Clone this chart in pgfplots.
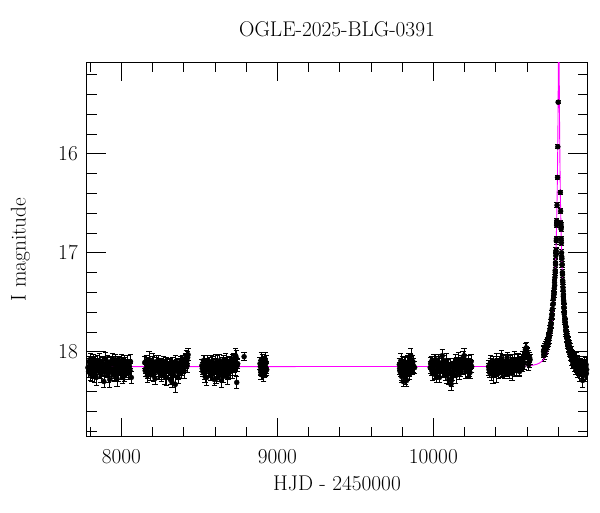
\documentclass[border=0pt]{standalone}
\usepackage{pgfplots}
\usepackage{pgfplotstable}
\pgfplotsset{compat=1.18}
\definecolor{modelmag}{RGB}{255,0,255}
\pgfplotstableread{
t m e
7786 18.16 0.06
7793 18.10 0.05
7800 18.22 0.07
7807 18.13 0.06
7814 18.19 0.08
7821 18.08 0.05
7828 18.25 0.06
7835 18.12 0.07
7842 18.17 0.06
7849 18.09 0.05
7856 18.20 0.07
7863 18.14 0.06
7870 18.23 0.08
7877 18.11 0.05
7884 18.15 0.06
7891 18.18 0.07
7898 18.07 0.06
7905 18.21 0.05
7912 18.13 0.07
7919 18.16 0.06
7926 18.28 0.08
7933 18.10 0.05
7940 18.19 0.06
7947 18.12 0.07
7954 18.24 0.06
7961 18.08 0.05
7968 18.17 0.07
7975 18.14 0.06
7982 18.22 0.08
7989 18.11 0.05
7996 18.18 0.06
8003 18.13 0.07
8010 18.26 0.06
8017 18.09 0.05
8024 18.16 0.07
8031 18.20 0.06
8038 18.12 0.08
8045 18.18 0.05
8052 18.15 0.06
8059 18.10 0.07
8064 18.26 0.06
7790 18.20 0.06
7797 18.14 0.07
7804 18.07 0.05
7811 18.24 0.06
7818 18.15 0.07
7825 18.11 0.06
7832 18.19 0.05
7839 18.26 0.08
7846 18.13 0.06
7853 18.16 0.05
7860 18.09 0.07
7867 18.21 0.06
7874 18.17 0.05
7881 18.12 0.07
7888 18.30 0.06
7895 18.14 0.05
7902 18.18 0.07
7909 18.10 0.06
7916 18.23 0.08
7923 18.15 0.05
7930 18.12 0.06
7937 18.20 0.07
7944 18.08 0.06
7951 18.17 0.05
7958 18.22 0.07
7965 18.13 0.06
7972 18.27 0.08
7979 18.10 0.05
7986 18.16 0.06
7993 18.21 0.07
8000 18.09 0.06
8007 18.18 0.05
8014 18.14 0.07
8021 18.24 0.06
8028 18.11 0.05
8035 18.15 0.07
8042 18.22 0.06
8049 18.13 0.05
8056 18.19 0.07
8150 18.11 0.06
8157 18.17 0.05
8164 18.13 0.07
8171 18.21 0.06
8178 18.08 0.08
8185 18.15 0.05
8192 18.19 0.06
8199 18.12 0.07
8206 18.24 0.06
8213 18.14 0.05
8220 18.18 0.07
8227 18.10 0.06
8234 18.20 0.08
8241 18.16 0.05
8248 18.13 0.06
8255 18.23 0.07
8262 18.17 0.06
8269 18.10 0.05
8276 18.21 0.07
8283 18.14 0.06
8290 18.26 0.08
8297 18.12 0.05
8304 18.18 0.06
8311 18.15 0.07
8318 18.22 0.06
8325 18.31 0.05
8332 18.16 0.07
8339 18.19 0.06
8346 18.33 0.08
8353 18.13 0.05
8360 18.18 0.06
8367 18.21 0.07
8374 18.14 0.06
8381 18.10 0.05
8388 18.17 0.07
8395 18.12 0.06
8402 18.19 0.08
8409 18.08 0.05
8416 18.05 0.06
8422 18.14 0.07
8428 18.03 0.06
8153 18.19 0.06
8160 18.09 0.05
8167 18.24 0.07
8174 18.15 0.06
8181 18.12 0.05
8188 18.22 0.07
8195 18.16 0.06
8202 18.10 0.08
8209 18.18 0.05
8216 18.27 0.06
8223 18.13 0.07
8230 18.15 0.06
8237 18.09 0.05
8244 18.21 0.07
8251 18.17 0.06
8258 18.12 0.05
8265 18.19 0.07
8272 18.14 0.06
8279 18.25 0.08
8286 18.11 0.05
8293 18.16 0.06
8300 18.20 0.07
8307 18.13 0.06
8314 18.28 0.05
8321 18.17 0.07
8328 18.12 0.06
8335 18.23 0.08
8342 18.15 0.05
8349 18.10 0.06
8356 18.19 0.07
8363 18.26 0.06
8370 18.12 0.05
8377 18.17 0.07
8384 18.21 0.06
8391 18.09 0.05
8398 18.15 0.07
8405 18.13 0.06
8412 18.07 0.05
8419 18.10 0.07
8425 18.06 0.06
8516 18.14 0.06
8523 18.20 0.05
8530 18.11 0.07
8537 18.25 0.06
8544 18.17 0.08
8551 18.09 0.05
8558 18.19 0.06
8565 18.13 0.07
8572 18.23 0.06
8579 18.16 0.05
8586 18.12 0.07
8593 18.21 0.06
8600 18.15 0.08
8607 18.27 0.05
8614 18.10 0.06
8621 18.18 0.07
8628 18.24 0.06
8635 18.14 0.05
8642 18.29 0.07
8649 18.16 0.06
8656 18.12 0.08
8663 18.20 0.05
8670 18.08 0.06
8677 18.15 0.07
8684 18.22 0.06
8691 18.11 0.05
8698 18.17 0.07
8705 18.13 0.06
8712 18.19 0.08
8719 18.07 0.05
8726 18.15 0.06
8733 18.04 0.07
8740 18.31 0.06
8746 18.12 0.05
8519 18.17 0.06
8526 18.09 0.05
8533 18.21 0.07
8540 18.14 0.06
8547 18.26 0.08
8554 18.12 0.05
8561 18.16 0.06
8568 18.19 0.07
8575 18.10 0.06
8582 18.23 0.05
8589 18.15 0.07
8596 18.28 0.06
8603 18.11 0.08
8610 18.18 0.05
8617 18.14 0.06
8624 18.21 0.07
8631 18.09 0.06
8638 18.17 0.05
8645 18.13 0.07
8652 18.25 0.06
8659 18.15 0.08
8666 18.19 0.05
8673 18.12 0.06
8680 18.26 0.07
8687 18.16 0.06
8694 18.10 0.05
8701 18.20 0.07
8708 18.14 0.06
8715 18.11 0.08
8722 18.09 0.05
8729 18.18 0.06
8736 18.06 0.07
8743 18.14 0.06
8787 18.05 0.04
8889 18.12 0.06
8893 18.19 0.05
8897 18.08 0.07
8901 18.22 0.06
8905 18.15 0.08
8909 18.10 0.05
8913 18.24 0.06
8917 18.17 0.07
8921 18.13 0.06
8925 18.20 0.05
8929 18.11 0.07
8932 18.18 0.06
8891 18.15 0.06
8895 18.23 0.05
8899 18.13 0.07
8903 18.09 0.06
8907 18.20 0.05
8911 18.16 0.07
8915 18.12 0.06
8919 18.21 0.05
8923 18.08 0.07
8927 18.16 0.06
9782 18.13 0.06
9787 18.20 0.05
9792 18.09 0.07
9797 18.25 0.06
9802 18.16 0.08
9807 18.30 0.05
9812 18.12 0.06
9817 18.19 0.07
9822 18.27 0.06
9827 18.14 0.05
9832 18.22 0.07
9837 18.17 0.06
9842 18.10 0.08
9847 18.23 0.05
9852 18.15 0.06
9856 18.04 0.07
9861 18.11 0.06
9866 18.18 0.05
9872 18.14 0.07
9880 18.16 0.06
9784 18.17 0.06
9789 18.12 0.05
9794 18.22 0.07
9799 18.14 0.06
9804 18.10 0.05
9809 18.19 0.07
9814 18.24 0.06
9819 18.13 0.08
9824 18.17 0.05
9829 18.29 0.06
9834 18.11 0.07
9839 18.15 0.06
9844 18.20 0.05
9849 18.13 0.07
9854 18.08 0.06
9859 18.18 0.05
9864 18.14 0.07
9869 18.10 0.06
9980 18.16 0.06
9987 18.10 0.05
9994 18.22 0.07
10001 18.13 0.06
10008 18.19 0.08
10015 18.08 0.05
10022 18.25 0.06
10029 18.15 0.07
10036 18.11 0.06
10043 18.20 0.05
10050 18.14 0.07
10057 18.04 0.06
10064 18.17 0.08
10071 18.13 0.05
10078 18.23 0.06
10085 18.09 0.07
10092 18.18 0.06
10099 18.28 0.05
10106 18.14 0.07
10113 18.33 0.06
10120 18.21 0.08
10127 18.12 0.05
10134 18.17 0.06
10141 18.10 0.07
10148 18.19 0.06
10155 18.15 0.05
10162 18.08 0.07
10169 18.22 0.06
10176 18.14 0.08
10183 18.11 0.05
10190 18.06 0.06
10197 18.04 0.07
10204 18.16 0.06
10211 18.12 0.05
10218 18.19 0.07
10225 18.10 0.06
10232 18.17 0.08
10239 18.13 0.05
10246 18.15 0.06
9983 18.12 0.06
9990 18.19 0.05
9997 18.15 0.07
10004 18.09 0.06
10011 18.23 0.05
10018 18.14 0.07
10025 18.18 0.06
10032 18.11 0.08
10039 18.26 0.05
10046 18.16 0.06
10053 18.12 0.07
10060 18.20 0.06
10067 18.09 0.05
10074 18.15 0.07
10081 18.19 0.06
10088 18.24 0.08
10095 18.13 0.05
10102 18.17 0.06
10109 18.22 0.07
10116 18.29 0.06
10123 18.15 0.05
10130 18.19 0.07
10137 18.13 0.06
10144 18.24 0.08
10151 18.11 0.05
10158 18.17 0.06
10165 18.14 0.07
10172 18.19 0.06
10179 18.09 0.05
10186 18.16 0.07
10193 18.12 0.06
10200 18.08 0.05
10207 18.20 0.07
10214 18.14 0.06
10221 18.17 0.08
10228 18.12 0.05
10235 18.21 0.06
10242 18.10 0.07
10354 18.15 0.06
10361 18.21 0.05
10368 18.11 0.07
10375 18.18 0.06
10382 18.24 0.08
10389 18.13 0.05
10396 18.19 0.06
10403 18.09 0.07
10410 18.16 0.06
10417 18.22 0.05
10424 18.12 0.07
10431 18.17 0.06
10438 18.07 0.08
10445 18.20 0.05
10452 18.14 0.06
10459 18.10 0.07
10466 18.18 0.06
10473 18.06 0.05
10480 18.15 0.07
10487 18.21 0.06
10494 18.12 0.08
10501 18.17 0.05
10508 18.09 0.06
10515 18.14 0.07
10522 18.19 0.06
10529 18.11 0.05
10536 18.13 0.07
10543 18.08 0.06
10550 18.16 0.08
10557 18.10 0.05
10564 18.14 0.06
10571 18.07 0.07
10578 18.12 0.06
10585 18.05 0.05
10590 17.98 0.07
10595 17.96 0.06
10601 18.01 0.05
10608 18.06 0.07
10614 18.10 0.06
10620 18.08 0.05
10357 18.18 0.06
10364 18.12 0.05
10371 18.22 0.07
10378 18.14 0.06
10385 18.10 0.05
10392 18.19 0.07
10399 18.15 0.06
10406 18.23 0.08
10413 18.12 0.05
10420 18.17 0.06
10427 18.09 0.07
10434 18.20 0.06
10441 18.15 0.05
10448 18.11 0.07
10455 18.21 0.06
10462 18.16 0.08
10469 18.13 0.05
10476 18.19 0.06
10483 18.10 0.07
10490 18.17 0.06
10497 18.14 0.05
10504 18.22 0.07
10511 18.12 0.06
10518 18.08 0.08
10525 18.16 0.05
10532 18.18 0.06
10539 18.10 0.07
10546 18.14 0.06
10553 18.20 0.05
10560 18.12 0.07
10567 18.09 0.06
10574 18.15 0.05
10581 18.11 0.07
10588 18.02 0.06
10598 17.99 0.05
10605 18.04 0.07
10611 18.13 0.06
10617 18.06 0.05
10706 18.00 0.06
10709 17.98 0.05
10712 18.02 0.06
10715 17.96 0.05
10718 17.99 0.06
10721 17.94 0.05
10724 17.97 0.05
10727 17.92 0.05
10730 17.90 0.05
10733 17.93 0.05
10736 17.87 0.05
10739 17.84 0.04
10742 17.86 0.05
10745 17.80 0.04
10748 17.77 0.04
10751 17.74 0.04
10754 17.71 0.04
10757 17.66 0.04
10760 17.62 0.04
10763 17.57 0.04
10766 17.52 0.04
10769 17.47 0.035
10772 17.41 0.035
10775 17.36 0.035
10777 17.30 0.035
10779 17.25 0.03
10781 17.18 0.03
10783 17.10 0.03
10785 17.03 0.03
10786 16.98 0.03
10788 16.88 0.03
10790 16.72 0.025
10791 16.68 0.025
10793 16.52 0.025
10796 16.24 0.02
10798 15.93 0.02
10800 15.48 0.015
10708 18.04 0.06
10714 17.99 0.05
10720 17.97 0.06
10726 17.95 0.05
10732 17.91 0.05
10738 17.89 0.05
10744 17.84 0.04
10750 17.79 0.04
10756 17.72 0.04
10762 17.63 0.04
10768 17.52 0.04
10774 17.42 0.035
10778 17.33 0.035
10782 17.20 0.03
10784 17.12 0.03
10787 16.99 0.03
10789 16.86 0.03
10792 16.70 0.025
10814 16.39 0.02
10816 16.58 0.025
10817 16.70 0.025
10819 16.76 0.025
10821 16.90 0.03
10822 17.00 0.03
10824 17.06 0.03
10826 17.12 0.03
10828 17.22 0.03
10830 17.30 0.035
10832 17.38 0.035
10834 17.42 0.035
10836 17.50 0.04
10838 17.55 0.04
10840 17.60 0.04
10843 17.66 0.04
10846 17.71 0.04
10849 17.74 0.04
10852 17.79 0.045
10855 17.82 0.045
10858 17.86 0.045
10861 17.88 0.05
10864 17.92 0.05
10867 17.90 0.05
10870 17.95 0.05
10873 17.98 0.05
10876 17.96 0.05
10880 18.01 0.05
10884 18.04 0.06
10888 18.00 0.05
10892 18.07 0.06
10896 18.05 0.05
10900 18.10 0.06
10905 18.08 0.06
10910 18.13 0.06
10915 18.06 0.05
10920 18.15 0.06
10925 18.11 0.07
10930 18.18 0.06
10935 18.12 0.07
10940 18.16 0.06
10946 18.20 0.07
10952 18.14 0.06
10957 18.29 0.07
10962 18.17 0.06
10967 18.12 0.07
10972 18.19 0.06
10977 18.15 0.07
10981 18.22 0.06
10818 16.72 0.025
10820 16.86 0.03
10823 17.04 0.03
10825 17.12 0.03
10827 17.20 0.03
10829 17.28 0.035
10831 17.35 0.035
10833 17.44 0.035
10835 17.48 0.04
10837 17.56 0.04
10839 17.62 0.04
10842 17.68 0.04
10845 17.70 0.04
10848 17.78 0.045
10851 17.80 0.045
10854 17.86 0.045
10857 17.84 0.05
10860 17.92 0.05
10863 17.89 0.05
10866 17.96 0.05
10869 17.93 0.05
10872 18.00 0.05
10878 18.03 0.06
10882 17.99 0.05
10886 18.08 0.06
10890 18.04 0.05
10894 18.11 0.06
10898 18.09 0.06
10903 18.14 0.06
10908 18.10 0.05
10913 18.17 0.06
10918 18.12 0.07
10923 18.20 0.06
10928 18.14 0.07
10933 18.16 0.06
10938 18.23 0.07
10943 18.13 0.06
10949 18.18 0.07
10955 18.15 0.06
10960 18.21 0.07
10965 18.14 0.06
10970 18.17 0.07
10975 18.24 0.06
10979 18.13 0.07
10983 18.18 0.06
}\obsdata
\pgfplotstableread{
t m
7780 18.150
10454 18.149
10524 18.148
10554 18.147
10594 18.144
10624 18.140
10644 18.134
10664 18.126
10679 18.115
10694 18.099
10704 18.082
10714 18.060
10722 18.035
10729 18.008
10737 17.966
10744 17.917
10749 17.873
10754 17.820
10759 17.754
10764 17.673
10769 17.573
10774 17.447
10779 17.286
10783 17.123
10786 16.974
10789 16.792
10791 16.647
10792 16.565
10794 16.378
10795 16.269
10796 16.148
10797 16.011
10798 15.855
10799 15.673
10800 15.457
10800.5 15.334
10801 15.197
10802 14.883
10803 14.535
10804 14.343
10805 14.535
10806 14.883
10807 15.197
10807.5 15.334
10808 15.457
10809 15.673
10810 15.855
10811 16.011
10812 16.148
10813 16.269
10814 16.378
10816 16.565
10817 16.647
10819 16.792
10822 16.974
10825 17.123
10829 17.286
10834 17.447
10839 17.573
10844 17.673
10849 17.754
10854 17.820
10859 17.873
10864 17.917
10871 17.966
10879 18.008
10886 18.035
10894 18.060
10904 18.082
10914 18.099
10929 18.115
10944 18.126
10964 18.134
10985 18.140
}\modeldata
\begin{document}
\begin{tikzpicture}
\path[use as bounding box] (0,0) rectangle (600pt,512pt);
\begin{axis}[
  at={(87pt,75.3pt)}, anchor=south west,
  scale only axis, width=500pt, height=374.4pt,
  xmin=7780, xmax=10985, ymin=15.077, ymax=18.858, y dir=reverse,
  xtick={8000,9000,10000}, ytick={16,17,18},
  scaled x ticks=false, scaled y ticks=false,
  minor xtick={7800,8200,8400,8600,8800,9200,9400,9600,9800,10200,10400,10600,10800},
  minor ytick={15.2,15.4,15.6,15.8,16.2,16.4,16.6,16.8,17.2,17.4,17.6,17.8,18.2,18.4,18.6,18.8},
  tick align=inside, major tick length=19pt, minor tick length=9.5pt,
  tick style={black, line width=0.6pt},
  axis line style={line width=1pt},
  font=\fontsize{21.3}{25}\selectfont,
  /pgf/number format/assume math mode=true,
  /pgf/number format/set thousands separator={},
  xticklabel style={anchor=base, yshift=-27pt, inner sep=0pt},
  yticklabel style={anchor=east, xshift=-9pt, inner sep=0pt},
  title={OGLE-2025-BLG-0391},
  title style={at={(axis description cs:0.5,1.0722)}, anchor=center, yshift=0pt, inner sep=0pt},
  xlabel={HJD - 2450000},
  xlabel style={at={(axis description cs:0.5,-0.1442)}, anchor=base, inner sep=0pt},
  ylabel={I magnitude},
  ylabel style={at={(axis description cs:-0.1226,0.5)}, anchor=base, inner sep=0pt},
]
\addplot[only marks, mark=*, mark size=2.5pt, black, mark options={fill=black},
  error bars/.cd, y dir=both, y explicit,
  error bar style={line width=0.6pt, black},
  error mark options={rotate=90, mark size=2.6pt, line width=0.6pt, black}]
  table[x=t, y=m, y error=e]{\obsdata};
\addplot[color=modelmag, line width=0.9pt] table[x=t, y=m]{\modeldata};
\end{axis}
\end{tikzpicture}
\end{document}
